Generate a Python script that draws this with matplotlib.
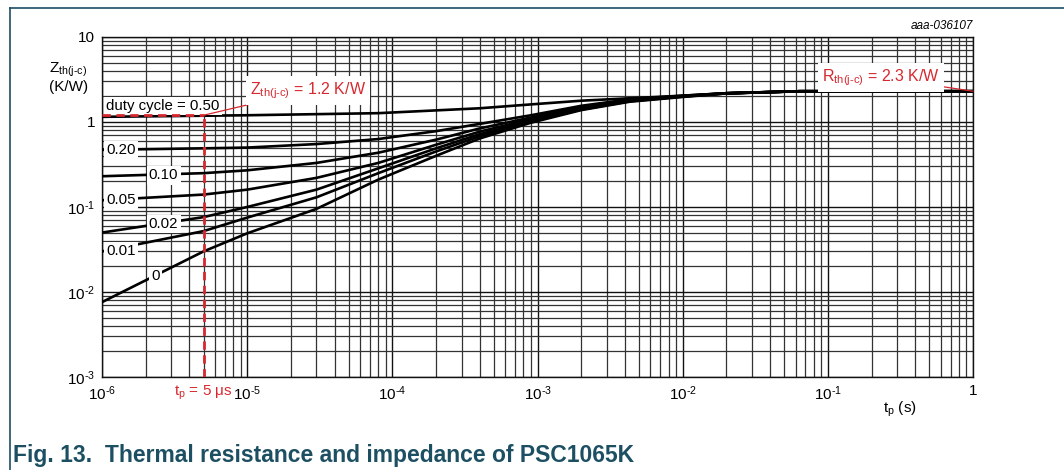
import matplotlib
matplotlib.use("Agg")

import matplotlib.pyplot as plt
from matplotlib.lines import Line2D
from matplotlib.ticker import LogLocator, NullFormatter

plt.rcParams["font.family"] = ["Liberation Sans", "DejaVu Sans"]
plt.rcParams["mathtext.fontset"] = "custom"
plt.rcParams["mathtext.rm"] = "Liberation Sans"
plt.rcParams["mathtext.it"] = "Liberation Sans:italic"

# pulse duration (s) and transient thermal impedance (K/W) per duty cycle
t_050 = [1e-6, 1e-5, 8e-5, 4e-4, 9e-4, 2e-3, 4.3e-3, 1e-2, 2e-2, 6.4e-2, 1.0]
z_050 = [1.15, 1.20, 1.27, 1.45, 1.61, 1.78, 1.90, 2.04, 2.18, 2.30, 2.30]

t_low = [1e-6, 5e-6, 1e-5, 3e-5, 8e-5, 2e-4, 4e-4, 9e-4, 2e-3, 4.3e-3, 1e-2, 2e-2, 6.4e-2, 1.0]
z_020 = [0.47, 0.49, 0.50, 0.55, 0.63, 0.78, 0.95, 1.20, 1.55, 1.85, 2.04, 2.18, 2.30, 2.30]
z_010 = [0.23, 0.25, 0.27, 0.33, 0.435, 0.62, 0.84, 1.13, 1.50, 1.82, 2.02, 2.18, 2.30, 2.30]
z_005 = [0.12, 0.14, 0.16, 0.22, 0.33, 0.54, 0.77, 1.08, 1.46, 1.79, 2.01, 2.18, 2.30, 2.30]
z_002 = [0.050, 0.076, 0.10, 0.16, 0.285, 0.49, 0.72, 1.04, 1.43, 1.77, 2.00, 2.17, 2.30, 2.30]
z_001 = [0.030, 0.052, 0.075, 0.13, 0.25, 0.45, 0.68, 1.01, 1.40, 1.75, 1.99, 2.17, 2.30, 2.30]
z_000 = [0.0076, 0.030, 0.049, 0.095, 0.21, 0.40, 0.64, 0.98, 1.38, 1.73, 1.97, 2.17, 2.30, 2.30]

x_ticks = [1e-6, 1e-5, 1e-4, 1e-3, 1e-2, 1e-1, 1]
x_labels = [r"$\mathrm{10^{\text{-}6}}$", r"$\mathrm{10^{\text{-}5}}$", r"$\mathrm{10^{\text{-}4}}$",
            r"$\mathrm{10^{\text{-}3}}$", r"$\mathrm{10^{\text{-}2}}$", r"$\mathrm{10^{\text{-}1}}$", "1"]
y_ticks = [1e-3, 1e-2, 1e-1, 1, 10]
y_labels = [r"$\mathrm{10^{\text{-}3}}$", r"$\mathrm{10^{\text{-}2}}$", r"$\mathrm{10^{\text{-}1}}$", "1", "10"]

tp_mark = 5e-6
z_mark = 1.2
r_th = 2.3

red = "#d7282f"
teal = "#1d4f63"

fig = plt.figure(figsize=(10.64, 4.70), dpi=100)
ax = fig.add_axes([0.0959, 0.1979, 0.8186, 0.7234])
ax.set_xscale("log")
ax.set_yscale("log")
ax.set_xlim(1e-6, 1)
ax.set_ylim(1e-3, 10)

ax.xaxis.set_minor_locator(LogLocator(base=10, subs=range(2, 10), numticks=20))
ax.yaxis.set_minor_locator(LogLocator(base=10, subs=range(2, 10), numticks=20))
ax.xaxis.set_minor_formatter(NullFormatter())
ax.yaxis.set_minor_formatter(NullFormatter())
ax.grid(True, which="major", color="#111111", lw=1.0)
ax.grid(True, which="minor", color="#333333", lw=0.9)
ax.set_axisbelow(True)
ax.tick_params(which="both", length=0, labelsize=11, pad=5)
ax.set_xticks(x_ticks)
ax.set_xticklabels(x_labels)
ax.set_yticks(y_ticks)
ax.set_yticklabels(y_labels)
for sp in ax.spines.values():
    sp.set_color("#111111")
    sp.set_linewidth(1.0)

for z in [z_020, z_010, z_005, z_002, z_001, z_000]:
    ax.plot(t_low, z, color="black", lw=1.9, solid_joinstyle="round", zorder=3)
ax.plot(t_050, z_050, color="black", lw=1.9, solid_joinstyle="round", zorder=3)

# curve labels on white boxes
box = dict(boxstyle="square,pad=0.15", fc="white", ec="none")
curve_labels = [
    ("duty cycle = 0.50", 1.07e-6, 1.55),
    ("0.20", 1.07e-6, 0.47),
    ("0.10", 2.1e-6, 0.235),
    ("0.05", 1.07e-6, 0.12),
    ("0.02", 2.1e-6, 0.063),
    ("0.01", 1.07e-6, 0.030),
    ("0", 2.2e-6, 0.0155),
]
for txt, x, y in curve_labels:
    ax.text(x, y, txt, fontsize=10.8, va="center", ha="left", bbox=box, zorder=4)

# marked point: tp = 5 us
ax.plot([1e-6, tp_mark], [z_mark, z_mark], color=red, lw=2.0, ls=(0, (3, 2)), zorder=5)
ax.plot([tp_mark, tp_mark], [1e-3, z_mark], color=red, lw=2.0, ls=(0, (3, 2)), zorder=5)
ax.annotate(r"$\mathrm{Z_{th(j\text{-}c)}}$ = 1.2 K/W", xy=(tp_mark, z_mark),
            xytext=(1.05e-5, 2.35), color=red, fontsize=11.5, va="center", ha="left",
            bbox=dict(boxstyle="square,pad=0.25", fc="white", ec="none"),
            arrowprops=dict(arrowstyle="-", color=red, lw=0.9, shrinkA=0, shrinkB=0),
            zorder=6)
ax.annotate(r"$\mathrm{R_{th(j\text{-}c)}}$ = 2.3 K/W", xy=(1, r_th),
            xytext=(0.232, 3.35), color=red, fontsize=11.5, va="center", ha="center",
            bbox=dict(boxstyle="square,pad=0.25", fc="white", ec="none"),
            arrowprops=dict(arrowstyle="-", color=red, lw=0.9, shrinkA=0, shrinkB=0),
            zorder=6)
ax.text(tp_mark, 8.3e-4, r"$\mathrm{t_p}$ = 5 μs", color=red, fontsize=11,
        ha="center", va="top", bbox=dict(boxstyle="square,pad=0.1", fc="white", ec="none"))

ax.text(1, 13.5, "aaa-036107", fontsize=8.5, style="italic", ha="right", va="center")

fig.text(0.064, 0.835, r"$\mathrm{Z_{th(j\text{-}c)}}$" + "\n(K/W)", fontsize=11,
         ha="center", va="center", linespacing=1.05)
fig.text(0.846, 0.128, r"$\mathrm{t_p}$ (s)", fontsize=11, ha="center", va="center")

fig.text(0.012, 0.03, "Fig. 13.  Thermal resistance and impedance of PSC1065K",
         fontsize=16.5, fontweight="bold", color=teal, ha="left", va="center")

# frame around the figure area
fig.add_artist(Line2D([0.0094, 1.0], [0.983, 0.983], color=teal, lw=1.2))
fig.add_artist(Line2D([0.0094, 0.0094], [0.0, 0.983], color=teal, lw=1.2))

fig.savefig("out.png", dpi=100)
